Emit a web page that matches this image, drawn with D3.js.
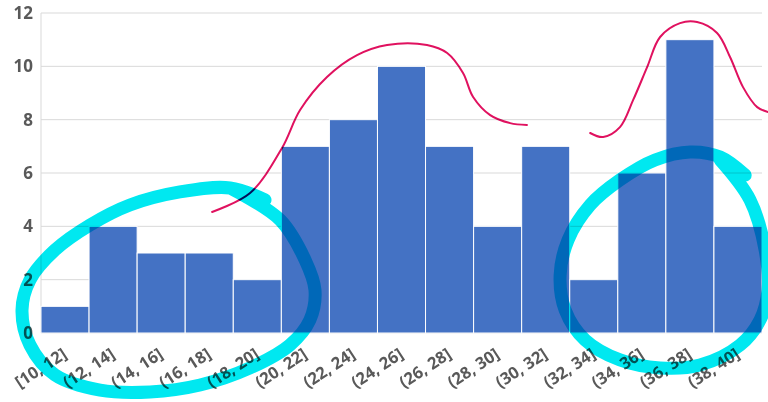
<!DOCTYPE html>
<html>
<head>
<meta charset="utf-8">
<script src="https://cdn.jsdelivr.net/npm/d3@7"></script>
<style>
  body { margin: 0; background: #fff; }
  text { font-family: "Open Sans", sans-serif; }
</style>
</head>
<body>
<script>
var width = 768;
var height = 402;

// histogram bins (edges) and counts
var binEdges = [10, 12, 14, 16, 18, 20, 22, 24, 26, 28, 30, 32, 34, 36, 38, 40];
var counts = [1, 4, 3, 3, 2, 7, 8, 10, 7, 4, 7, 2, 6, 11, 4];
var binLabels = ["[10, 12]", "(12, 14]", "(14, 16]", "(16, 18]", "(18, 20]", "(20, 22]",
  "(22, 24]", "(24, 26]", "(26, 28]", "(28, 30]", "(30, 32]", "(32, 34]", "(34, 36]",
  "(36, 38]", "(38, 40]"];
var yTicks = [0, 2, 4, 6, 8, 10, 12];

// hand drawn annotations, in data units [value, count]
var pinkLeft = [[17.12, 4.54], [18.70, 5.25], [20.03, 6.94], [20.78, 8.36], [21.90, 9.60],
  [23.15, 10.42], [24.40, 10.80], [26.06, 10.80], [26.90, 10.50], [27.56, 9.75],
  [27.98, 8.85], [28.69, 8.17], [29.52, 7.87], [30.22, 7.80]];
var pinkRight = [[32.85, 7.50], [33.39, 7.35], [34.09, 7.72], [34.64, 8.74], [35.22, 9.97],
  [35.76, 11.10], [36.59, 11.62], [37.30, 11.66], [38.13, 11.25], [38.67, 10.35],
  [39.21, 9.22], [39.80, 8.47], [40.25, 8.29]];
var cyanLeft = [[17.87, 5.44], [19.95, 4.24], [20.99, 2.74], [21.40, 1.61], [21.19, 0.49],
  [20.36, -0.45], [18.70, -1.31], [16.62, -1.95], [14.54, -2.21], [12.46, -2.14],
  [10.58, -1.57], [9.54, -0.45], [9.21, 0.86], [9.54, 1.99], [10.58, 3.11],
  [12.04, 4.05], [13.70, 4.80], [15.78, 5.29], [17.87, 5.44], [19.32, 4.99]];
var cyanRight = [[38.26, 6.49], [39.50, 4.99], [40.13, 3.11], [40.25, 1.61], [39.92, 0.49],
  [39.09, -0.45], [37.42, -1.20], [35.76, -1.31], [34.09, -1.01], [32.64, -0.26],
  [31.81, 0.86], [31.60, 2.17], [31.93, 3.49], [32.85, 4.80], [34.09, 5.74],
  [35.55, 6.49], [37.01, 6.79], [38.26, 6.60], [39.30, 5.92]];

var svg = d3.select('body').append('svg')
    .attr('width', width)
    .attr('height', height);

var x = d3.scaleLinear().domain([10, 40]).range([41, 762]);
var y = d3.scaleLinear().domain([0, 12]).range([333, 13]);

// gridlines
svg.append('g')
  .selectAll('line')
  .data(yTicks)
  .join('line')
    .attr('x1', x(10))
    .attr('x2', x(40))
    .attr('y1', function(d) { return y(d); })
    .attr('y2', function(d) { return y(d); })
    .attr('stroke', '#d9d9d9')
    .attr('stroke-width', 1);

// left axis line
svg.append('line')
  .attr('x1', x(10)).attr('x2', x(10))
  .attr('y1', y(12)).attr('y2', y(0))
  .attr('stroke', '#d9d9d9');

// y tick labels
svg.append('g')
  .selectAll('text')
  .data(yTicks)
  .join('text')
    .attr('x', 33)
    .attr('y', function(d) { return y(d) + 6; })
    .attr('text-anchor', 'end')
    .attr('font-size', 17)
    .attr('font-weight', 700)
    .attr('fill', '#595959')
    .text(function(d) { return d; });

// bars
svg.append('g')
  .selectAll('rect')
  .data(counts)
  .join('rect')
    .attr('x', function(d, i) { return x(binEdges[i]); })
    .attr('y', function(d) { return y(d); })
    .attr('width', function(d, i) { return x(binEdges[i + 1]) - x(binEdges[i]); })
    .attr('height', function(d) { return y(0) - y(d); })
    .attr('fill', '#4472c4')
    .attr('stroke', '#ffffff')
    .attr('stroke-width', 1);

// x labels (rotated)
svg.append('g')
  .selectAll('text')
  .data(binLabels)
  .join('text')
    .attr('text-anchor', 'end')
    .attr('font-size', 16.5)
    .attr('font-weight', 700)
    .attr('fill', '#595959')
    .attr('transform', function(d, i) {
      var xc = x((binEdges[i] + binEdges[i + 1]) / 2);
      return 'translate(' + (xc + 3) + ',357) rotate(-33)';
    })
    .text(function(d) { return d; });

// annotations
var line = d3.line()
    .x(function(d) { return x(d[0]); })
    .y(function(d) { return y(d[1]); })
    .curve(d3.curveCatmullRom);

[cyanLeft, cyanRight].forEach(function(pts) {
  svg.append('path')
    .attr('d', line(pts))
    .attr('fill', 'none')
    .attr('stroke', '#00e8f0')
    .attr('stroke-width', 13)
    .attr('stroke-linecap', 'round')
    .style('mix-blend-mode', 'multiply');
});

[pinkLeft, pinkRight].forEach(function(pts) {
  svg.append('path')
    .attr('d', line(pts))
    .attr('fill', 'none')
    .attr('stroke', '#e0115f')
    .attr('stroke-width', 2)
    .attr('stroke-linecap', 'round')
    .style('mix-blend-mode', 'multiply');
});
</script>
</body>
</html>
